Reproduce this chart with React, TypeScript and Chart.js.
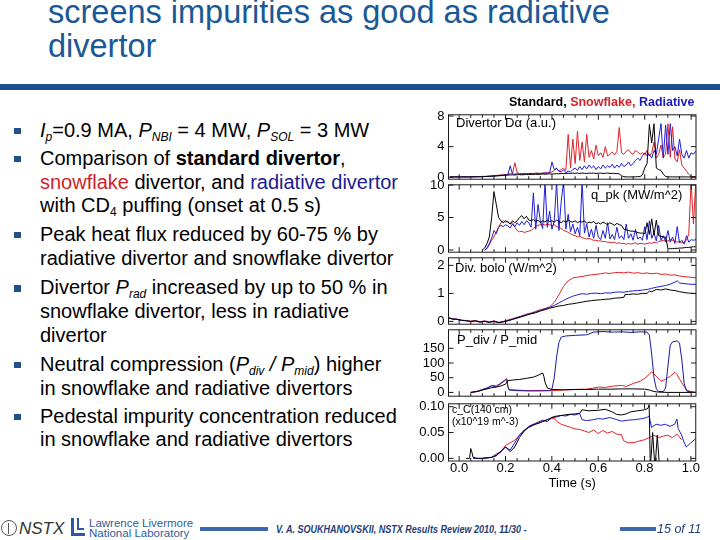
import React, { useEffect, useRef } from 'react';
import { Chart, registerables } from 'chart.js';

Chart.register(...registerables);
Chart.defaults.font.family = '"Liberation Sans", Arial, Helvetica, sans-serif';
Chart.defaults.color = '#000';

// ---------- time grids and tick values ----------
const T_FINE = [
  -0.04, -0.03, -0.02, -0.01,
  0.0, 0.01, 0.02, 0.03, 0.04, 0.05, 0.06, 0.07, 0.08, 0.09,
  0.1, 0.11, 0.12, 0.13, 0.14, 0.15, 0.16, 0.17, 0.18, 0.19,
  0.2, 0.21, 0.22, 0.23, 0.24, 0.25, 0.26, 0.27, 0.28, 0.29,
  0.3, 0.31, 0.32, 0.33, 0.34, 0.35, 0.36, 0.37, 0.38, 0.39,
  0.4, 0.41, 0.42, 0.43, 0.44, 0.45, 0.46, 0.47, 0.48, 0.49,
  0.5, 0.51, 0.52, 0.53, 0.54, 0.55, 0.56, 0.57, 0.58, 0.59,
  0.6, 0.61, 0.62, 0.63, 0.64, 0.65, 0.66, 0.67, 0.68, 0.69,
  0.7, 0.71, 0.72, 0.73, 0.74, 0.75, 0.76, 0.77, 0.78, 0.79,
  0.8, 0.81, 0.82, 0.83, 0.84, 0.85, 0.86, 0.87, 0.88, 0.89,
  0.9, 0.91, 0.92, 0.93, 0.94, 0.95, 0.96, 0.97, 0.98, 0.99,
  1.0, 1.01, 1.02,
];

const X_LABEL_TICKS = [0, 0.2, 0.4, 0.6, 0.8, 1.0];
const X_MINOR_TICKS = [0, 0.05, 0.1, 0.15, 0.2, 0.25, 0.3, 0.35, 0.4, 0.45, 0.5, 0.55, 0.6, 0.65, 0.7, 0.75, 0.8, 0.85, 0.9, 0.95, 1.0];

const DA_TICKS = [0, 4, 8];
const QPK_TICKS = [0, 5, 10];
const BOLO_TICKS = [0, 1, 2];
const PDIV_TICKS = [0, 50, 100, 150];
const CC_TICKS = [0, 0.05, 0.1];

// ---------- Divertor D-alpha (a.u.) on T_FINE ----------
const DA_BLACK = [
  0.05, 0.05, 0.05, 0.05,
  0.05, 0.05, 0.05, 0.05, 0.05, 0.05, 0.06, 0.06, 0.07, 0.08,
  0.08, 0.1, 0.1, 0.12, 0.14, 0.15, 0.18, 0.2, 0.22, 0.25,
  0.28, 0.3, 0.3, 0.32, 0.3, 0.33, 0.35, 0.32, 0.35, 0.36,
  0.35, 0.38, 0.36, 0.4, 0.38, 0.4, 0.42, 0.4, 0.42, 0.45,
  0.42, 0.45, 0.48, 0.45, 0.5, 0.48, 0.5, 0.52, 0.5, 0.55,
  0.52, 0.55, 0.5, 0.55, 0.52, 0.5, 0.55, 0.52, 0.55, 0.5,
  0.52, 0.55, 0.5, 0.52, 0.55, 0.5, 0.52, 0.5, 0.48, 0.45,
  0.2, 0.08, 0.05, 0.05, 0.05, 0.05, 0.06, 0.08, 0.1, 0.3,
  1.2, 1.8, 6.9, 4.5, 7.0, 1.2, 1.0, 0.9, 0.4, 0.1,
  0.05, 0.05, 0.05, 0.05, 0.05, 0.05, 0.05, 0.05, 0.05, 0.05,
  0.05, 0.05, 0.05,
];
const DA_RED = [
  0.05, 0.05, 0.05, 0.05,
  0.05, 0.05, 0.05, 0.06, 0.06, 0.07, 0.08, 0.08, 0.1, 0.1,
  0.12, 0.12, 0.15, 0.18, 0.2, 0.22, 0.25, 0.28, 0.3, 0.32,
  0.35, 0.4, 0.45, 0.5, 1.9, 0.6, 0.5, 0.45, 0.5, 0.48,
  0.5, 0.52, 0.5, 0.55, 0.52, 0.5, 0.55, 0.58, 0.6, 0.62,
  0.7, 0.9, 1.1, 0.8, 1.0, 1.2, 0.9, 5.6, 1.2, 5.0,
  1.8, 6.0, 2.2, 4.6, 2.0, 5.6, 2.6, 3.5, 2.4, 4.2,
  2.8, 3.2, 2.6, 4.0, 2.8, 3.0, 3.3, 2.9, 3.4, 6.5,
  3.2, 3.0, 3.4, 3.6, 3.2, 3.0, 3.5, 3.3, 3.0, 3.2,
  2.9, 3.5, 2.8, 3.2, 4.6, 2.5, 3.0, 4.2, 2.6, 3.0,
  7.0, 2.6, 6.6, 2.4, 2.0, 3.6, 1.6, 1.2, 0.8, 0.4,
  0.1, 0.1, 0.1,
];
const DA_BLUE = [
  0.05, 0.05, 0.05, 0.05,
  0.05, 0.05, 0.05, 0.05, 0.05, 0.06, 0.06, 0.07, 0.07, 0.08,
  0.08, 0.1, 0.1, 0.12, 0.15, 0.18, 0.2, 0.22, 0.25, 0.28,
  0.3, 0.32, 1.5, 0.4, 0.42, 0.45, 0.42, 0.45, 0.48, 0.45,
  0.48, 0.5, 0.48, 0.5, 0.52, 0.5, 0.52, 0.55, 0.55, 0.6,
  2.0, 1.0, 1.2, 0.8, 0.7, 1.0, 0.6, 0.8, 0.7, 1.0,
  1.2, 0.9, 1.4, 1.0, 1.5, 1.1, 1.6, 1.2, 1.5, 1.0,
  1.4, 1.1, 1.6, 1.2, 1.5, 1.3, 1.7, 1.2, 1.6, 1.3,
  1.8, 1.4, 1.6, 2.0, 1.5, 1.8, 2.2, 2.5, 2.2, 2.8,
  3.2, 2.8, 3.0, 2.5, 3.5, 3.0, 5.0, 7.0, 2.5, 6.8,
  3.0, 7.0, 3.5, 4.0, 2.8, 5.0, 3.0, 2.5, 3.5, 2.5,
  3.2, 3.0, 3.4,
];

// ---------- q_pk (MW/m^2) on T_FINE ----------
const QPK_BLACK = [
  null, null, null, null,
  null, null, null, null, null, null, null, null, null, null,
  0.0, 0.3, 1.0, 2.0, 5.0, 9.0, 7.0, 5.0, 4.5, 4.2,
  4.5, 4.3, 4.0, 4.5, 4.2, 4.5, 5.0, 5.3, 4.8, 5.2,
  4.6, 4.5, 4.7, 4.4, 4.6, 4.2, 4.5, 4.3, 4.6, 4.4,
  4.5, 4.3, 4.6, 4.4, 4.2, 4.5, 4.3, 4.6, 4.4, 4.3,
  4.5, 4.2, 4.4, 4.3, 4.5, 4.1, 4.3, 4.2, 4.4, 4.0,
  4.2, 4.0, 4.3, 4.1, 3.9, 4.2, 4.0, 3.8, 4.1, 3.9,
  3.8, 3.2, 3.1, 3.0, 2.9, 2.9, 2.8, 2.7, 2.6, 2.6,
  2.5, 4.2, 2.4, 4.8, 2.3, 4.6, 2.2, 2.1, 2.0, 2.0,
  0.2, 0.2, 0.2, 0.25, 0.25, 0.3, 0.3, 0.35, 0.4, 0.4,
  0.45, 0.5, 0.5,
];
const QPK_RED = [
  null, null, null, null,
  null, null, null, null, null, null, null, null, null, null,
  null, 0.0, 0.2, 0.8, 1.5, 2.0, 2.8, 3.5, 4.2, 4.5,
  4.3, 4.4, 4.0, 4.2, 3.5, 3.0, 2.8, 2.9, 2.7, 2.8,
  2.9, 3.0, 3.3, 3.6, 3.8, 3.9, 4.0, 3.8, 4.0, 3.9,
  3.7, 3.9, 3.6, 3.5, 3.3, 3.0, 2.9, 2.7, 2.5, 2.3,
  2.2, 2.0, 2.1, 1.9, 1.8, 1.7, 1.8, 1.6, 1.5, 1.5,
  1.4, 1.4, 1.3, 1.3, 1.2, 1.2, 1.1, 1.2, 1.0, 1.1,
  1.0, 1.0, 0.9, 1.0, 0.9, 1.0, 1.1, 0.9, 1.0, 1.0,
  0.9, 1.0, 1.1, 1.0, 1.2, 1.1, 1.3, 1.4, 1.5, 1.3,
  1.4, 1.6, 1.5, 1.4, 1.2, 1.3, 1.1, 1.2, 1.5, 2.5,
  10.5, 4.0, 10.5,
];
const QPK_BLUE = [
  null, null, null, null,
  null, null, null, null, null, null, null, null, null, null,
  null, 0.0, 0.3, 1.0, 1.8, 3.0, 2.5, 3.5, 3.8, 3.6,
  3.9, 3.7, 3.4, 4.0, 3.6, 4.2, 3.8, 4.4, 3.9, 4.5,
  4.2, 3.5, 8.8, 3.2, 7.0, 4.5, 3.3, 10.5, 3.5, 6.0,
  3.2, 4.5, 10.5, 3.0, 7.5, 10.5, 3.2, 5.5, 2.8, 4.0,
  2.5, 3.5, 2.2, 10.5, 2.6, 4.0, 2.0, 3.2, 1.8, 3.8,
  2.0, 1.6, 3.0, 1.8, 4.2, 1.7, 2.4, 1.6, 3.5, 1.8,
  2.2, 1.6, 4.0, 1.8, 2.5, 1.5, 3.2, 1.7, 2.0, 1.5,
  3.6, 1.6, 4.5, 1.8, 2.6, 1.4, 3.8, 1.5, 2.2, 1.3,
  3.0, 1.2, 2.0, 1.0, 3.6, 1.1, 1.5, 0.9, 2.2, 1.2,
  1.6, 1.5, 1.6,
];

// ---------- Div. bolo (W/m^2): [time, value] ----------
const BOLO_BLACK: [number, number][] = [
  [-0.046, 0.12], [-0.03, 0.09], [-0.01, 0.07], [0.01, 0.04], [0.03, 0.02], [0.05, 0.0], [0.07, 0.02],
  [0.09, -0.02], [0.11, 0.0], [0.13, -0.03], [0.15, 0.0], [0.17, -0.04], [0.19, -0.02], [0.21, 0.02],
  [0.23, 0.07], [0.25, 0.12], [0.27, 0.17], [0.29, 0.22], [0.31, 0.27], [0.33, 0.31], [0.35, 0.37],
  [0.37, 0.42], [0.39, 0.47], [0.41, 0.51], [0.43, 0.55], [0.45, 0.57], [0.47, 0.61], [0.49, 0.63],
  [0.51, 0.66], [0.53, 0.69], [0.55, 0.72], [0.57, 0.74], [0.59, 0.76], [0.61, 0.77], [0.63, 0.79],
  [0.65, 0.8], [0.67, 0.83], [0.69, 0.84], [0.71, 0.86], [0.715, 0.96], [0.73, 0.96], [0.75, 0.98],
  [0.77, 0.97], [0.79, 1.0], [0.81, 1.0], [0.82, 1.08], [0.83, 1.06], [0.85, 1.14], [0.87, 1.12],
  [0.89, 1.16], [0.91, 1.12], [0.93, 1.1], [0.95, 1.06], [0.97, 1.03], [0.99, 1.01], [1.02, 0.99],
];
const BOLO_RED: [number, number][] = [
  [-0.046, 0.14], [-0.03, 0.1], [-0.01, 0.08], [0.01, 0.05], [0.03, 0.03], [0.05, 0.01], [0.07, 0.03],
  [0.09, -0.01], [0.11, 0.02], [0.13, -0.02], [0.15, 0.02], [0.17, -0.03], [0.19, 0.0], [0.21, 0.05],
  [0.23, 0.1], [0.25, 0.15], [0.27, 0.2], [0.29, 0.26], [0.31, 0.3], [0.33, 0.36], [0.35, 0.42],
  [0.37, 0.46], [0.39, 0.52], [0.41, 0.68], [0.43, 0.95], [0.45, 1.25], [0.47, 1.45], [0.49, 1.55],
  [0.51, 1.58], [0.53, 1.6], [0.55, 1.64], [0.57, 1.66], [0.59, 1.68], [0.61, 1.7], [0.63, 1.73],
  [0.65, 1.71], [0.67, 1.74], [0.69, 1.75], [0.71, 1.73], [0.73, 1.76], [0.75, 1.72], [0.77, 1.74],
  [0.79, 1.71], [0.81, 1.73], [0.83, 1.7], [0.85, 1.72], [0.87, 1.68], [0.89, 1.69], [0.91, 1.65],
  [0.93, 1.66], [0.95, 1.62], [0.97, 1.6], [0.99, 1.58], [1.02, 1.56],
];
const BOLO_BLUE: [number, number][] = [
  [-0.046, 0.13], [-0.03, 0.08], [-0.01, 0.08], [0.01, 0.03], [0.03, 0.03], [0.05, -0.01], [0.07, 0.01],
  [0.09, -0.03], [0.11, 0.01], [0.13, -0.04], [0.15, 0.01], [0.17, -0.05], [0.19, -0.01], [0.21, 0.03],
  [0.23, 0.08], [0.25, 0.13], [0.27, 0.18], [0.29, 0.24], [0.31, 0.28], [0.33, 0.33], [0.35, 0.39],
  [0.37, 0.44], [0.39, 0.5], [0.41, 0.57], [0.43, 0.66], [0.45, 0.75], [0.47, 0.83], [0.49, 0.9],
  [0.51, 0.95], [0.53, 0.99], [0.55, 0.97], [0.57, 1.0], [0.59, 1.01], [0.61, 0.99], [0.63, 1.02],
  [0.65, 1.01], [0.67, 1.04], [0.69, 1.05], [0.71, 1.04], [0.73, 1.07], [0.75, 1.09], [0.77, 1.1],
  [0.79, 1.12], [0.81, 1.14], [0.83, 1.18], [0.85, 1.22], [0.87, 1.25], [0.89, 1.28], [0.91, 1.33],
  [0.93, 1.4], [0.94, 1.45], [0.95, 1.37], [0.97, 1.35], [0.99, 1.33], [1.02, 1.32],
];

// ---------- P_div / P_mid: [time, value] ----------
const PDIV_BLACK: [number, number][] = [
  [0.05, 0], [0.08, 3], [0.1, 8], [0.12, 12], [0.14, 16], [0.16, 18], [0.18, 22], [0.2, 28], [0.21, 40],
  [0.23, 42], [0.26, 44], [0.29, 48], [0.32, 52], [0.34, 58], [0.36, 66], [0.365, 55], [0.37, 35],
  [0.38, 15], [0.4, 10], [0.45, 9], [0.5, 10], [0.55, 10], [0.6, 11], [0.65, 11], [0.7, 12], [0.75, 12],
  [0.8, 11], [0.82, 8], [0.84, 3], [0.86, 1], [0.9, 0], [1.02, 0],
];
const PDIV_BLUE: [number, number][] = [
  [0.05, 0], [0.08, 4], [0.1, 10], [0.12, 15], [0.14, 22], [0.16, 20], [0.18, 30], [0.2, 42], [0.205, 45],
  [0.21, 20], [0.215, 8], [0.25, 6], [0.3, 5], [0.35, 5], [0.39, 6], [0.4, 12], [0.41, 50], [0.42, 120],
  [0.43, 170], [0.44, 188], [0.46, 192], [0.5, 194], [0.55, 196], [0.58, 205], [0.62, 207], [0.66, 205],
  [0.7, 206], [0.74, 204], [0.78, 206], [0.81, 205], [0.82, 195], [0.83, 130], [0.84, 50], [0.85, 12],
  [0.86, 3], [0.88, 3], [0.89, 15], [0.9, 90], [0.91, 160], [0.92, 172], [0.94, 175], [0.95, 168],
  [0.96, 110], [0.97, 30], [0.98, 5], [1.0, 1], [1.02, 0],
];
const PDIV_RED: [number, number][] = [
  [0.05, 0], [0.08, 4], [0.1, 9], [0.12, 14], [0.14, 24], [0.16, 22], [0.18, 32], [0.2, 44], [0.205, 47],
  [0.21, 20], [0.215, 10], [0.25, 8], [0.3, 6], [0.35, 7], [0.4, 6], [0.45, 8], [0.5, 10], [0.55, 11],
  [0.58, 15], [0.6, 18], [0.63, 17], [0.66, 21], [0.7, 24], [0.72, 20], [0.75, 30], [0.78, 38], [0.8, 48],
  [0.82, 62], [0.83, 70], [0.85, 55], [0.87, 38], [0.89, 45], [0.91, 55], [0.93, 68], [0.94, 60],
  [0.95, 45], [0.97, 20], [0.98, 8], [1.0, 2], [1.02, 0],
];

// ---------- c_C (140 cm) (x10^19 m^-3): [time, value] ----------
const CC_BLACK: [number, number][] = [
  [0.03, 0.0], [0.045, 0.0], [0.05, 0.019], [0.055, 0.012], [0.06, 0.002], [0.08, 0.0], [0.1, 0.0],
  [0.12, 0.001], [0.14, 0.002], [0.16, 0.005], [0.18, 0.014], [0.2, 0.022], [0.22, 0.013], [0.24, 0.022],
  [0.26, 0.04], [0.28, 0.053], [0.3, 0.06], [0.32, 0.065], [0.35, 0.069], [0.38, 0.075], [0.41, 0.081],
  [0.44, 0.083], [0.47, 0.085], [0.5, 0.086], [0.52, 0.087], [0.53, 0.094], [0.56, 0.092], [0.6, 0.093],
  [0.63, 0.095], [0.66, 0.09], [0.68, 0.085], [0.7, 0.084], [0.72, 0.086], [0.74, 0.09], [0.77, 0.092],
  [0.8, 0.094], [0.815, 0.097], [0.82, 0.104], [0.825, -0.02], [0.835, 0.05], [0.845, -0.02],
  [0.855, 0.045], [0.865, -0.02],
];
const CC_BLUE: [number, number][] = [
  [0.06, 0.0], [0.1, 0.0], [0.14, 0.002], [0.16, 0.008], [0.18, 0.013], [0.2, 0.022], [0.22, 0.016],
  [0.24, 0.03], [0.26, 0.045], [0.28, 0.052], [0.3, 0.062], [0.33, 0.068], [0.36, 0.074], [0.38, 0.071],
  [0.4, 0.079], [0.42, 0.08], [0.44, 0.083], [0.46, 0.082], [0.48, 0.085], [0.5, 0.084], [0.52, 0.087],
  [0.53, 0.075], [0.55, 0.073], [0.58, 0.075], [0.6, 0.077], [0.62, 0.076], [0.65, 0.079], [0.68, 0.075],
  [0.7, 0.072], [0.73, 0.074], [0.76, 0.075], [0.79, 0.077], [0.81, 0.079], [0.82, 0.082], [0.83, 0.06],
  [0.85, 0.066], [0.87, 0.064], [0.89, 0.066], [0.91, 0.062], [0.93, 0.066], [0.94, 0.076], [0.945, 0.058],
  [0.96, 0.045], [0.97, 0.032], [0.98, 0.022], [0.99, 0.026], [1.0, 0.03], [1.02, 0.038],
];
const CC_RED: [number, number][] = [
  [0.1, 0.0], [0.14, 0.002], [0.16, 0.006], [0.18, 0.012], [0.2, 0.025], [0.22, 0.03], [0.24, 0.035],
  [0.26, 0.045], [0.28, 0.055], [0.3, 0.06], [0.33, 0.066], [0.36, 0.072], [0.39, 0.076], [0.41, 0.078],
  [0.42, 0.072], [0.44, 0.066], [0.46, 0.063], [0.48, 0.06], [0.5, 0.057], [0.52, 0.056], [0.54, 0.053],
  [0.56, 0.05], [0.58, 0.055], [0.6, 0.048], [0.62, 0.054], [0.64, 0.049], [0.66, 0.052], [0.68, 0.047],
  [0.7, 0.046], [0.71, 0.034], [0.73, 0.03], [0.76, 0.031], [0.78, 0.034], [0.8, 0.036], [0.82, 0.04],
  [0.84, 0.045], [0.86, 0.04], [0.88, 0.043], [0.9, 0.045], [0.92, 0.04], [0.94, 0.047], [0.96, 0.036],
];

// ---------- styling ----------
const COL_BLACK = '#000000';
const COL_RED = '#e0232b';
const COL_BLUE = '#1e1ed2';
const FONT = '"Liberation Sans", Arial, Helvetica, sans-serif';
const X_MIN = -0.046;
const X_MAX = 1.021;

type Pt = { x: number; y: number | null };
const fromGrid = (vals: (number | null)[]): Pt[] => T_FINE.map((t, i) => ({ x: t, y: vals[i] }));
const fromPairs = (pairs: [number, number][]): Pt[] => pairs.map(([x, y]) => ({ x, y }));

interface PanelSpec {
  top: number;
  bottom: number;
  min: number;
  max: number;
  ticks: number[];
  decimals: number;
  showX: boolean;
  series: { color: string; pts: Pt[] }[];
}

const PANELS: PanelSpec[] = [
  {
    top: 113, bottom: 181, min: -0.25, max: 8.16, ticks: DA_TICKS, decimals: 0, showX: false,
    series: [
      { color: COL_BLACK, pts: fromGrid(DA_BLACK) },
      { color: COL_BLUE, pts: fromGrid(DA_BLUE) },
      { color: COL_RED, pts: fromGrid(DA_RED) },
    ],
  },
  {
    top: 183, bottom: 254, min: -0.34, max: 10.04, ticks: QPK_TICKS, decimals: 0, showX: false,
    series: [
      { color: COL_BLACK, pts: fromGrid(QPK_BLACK) },
      { color: COL_BLUE, pts: fromGrid(QPK_BLUE) },
      { color: COL_RED, pts: fromGrid(QPK_RED) },
    ],
  },
  {
    top: 256, bottom: 326, min: -0.1, max: 2.27, ticks: BOLO_TICKS, decimals: 0, showX: false,
    series: [
      { color: COL_BLACK, pts: fromPairs(BOLO_BLACK) },
      { color: COL_BLUE, pts: fromPairs(BOLO_BLUE) },
      { color: COL_RED, pts: fromPairs(BOLO_RED) },
    ],
  },
  {
    top: 328, bottom: 398, min: -12.9, max: 212.9, ticks: PDIV_TICKS, decimals: 0, showX: false,
    series: [
      { color: COL_BLACK, pts: fromPairs(PDIV_BLACK) },
      { color: '#1a1aa8', pts: fromPairs(PDIV_BLUE) },
      { color: COL_RED, pts: fromPairs(PDIV_RED) },
    ],
  },
  {
    top: 402, bottom: 461, min: -0.0051, max: 0.1056, ticks: CC_TICKS, decimals: 2, showX: true,
    series: [
      { color: COL_BLACK, pts: fromPairs(CC_BLACK) },
      { color: COL_BLUE, pts: fromPairs(CC_BLUE) },
      { color: COL_RED, pts: fromPairs(CC_RED) },
    ],
  },
];

function makeFrame(yTicks: number[]) {
  return {
    id: 'frame',
    afterDatasetsDraw(chart: any) {
      const { ctx, chartArea: a } = chart;
      const xs = chart.scales.x;
      const ys = chart.scales.y;
      ctx.save();
      ctx.strokeStyle = '#1a1a1a';
      ctx.lineWidth = 1;
      ctx.strokeRect(a.left, a.top, a.right - a.left, a.bottom - a.top);
      ctx.beginPath();
      for (const v of X_MINOR_TICKS) {
        const px = xs.getPixelForValue(v);
        const len = X_LABEL_TICKS.includes(v) ? 5 : 3;
        ctx.moveTo(px, a.bottom);
        ctx.lineTo(px, a.bottom - len);
        ctx.moveTo(px, a.top);
        ctx.lineTo(px, a.top + len);
      }
      for (const v of yTicks) {
        const py = ys.getPixelForValue(v);
        ctx.moveTo(a.left, py);
        ctx.lineTo(a.left + 5, py);
        ctx.moveTo(a.right, py);
        ctx.lineTo(a.right - 5, py);
      }
      ctx.stroke();
      ctx.restore();
    },
  };
}

function Panel({ spec }: { spec: PanelSpec }) {
  const ref = useRef<HTMLCanvasElement>(null);
  const padTop = 10;
  const padBottom = spec.showX ? 0 : 10;
  const xAxisH = spec.showX ? 37 : 0;
  const canvasTop = spec.top - padTop;
  const height = spec.bottom - spec.top + padTop + padBottom + xAxisH;

  useEffect(() => {
    if (!ref.current) return;
    const chart = new Chart(ref.current, {
      type: 'line',
      data: {
        datasets: spec.series.map((s) => ({
          data: s.pts as any,
          borderColor: s.color,
          backgroundColor: s.color,
          borderWidth: 1,
          pointRadius: 0,
          tension: 0,
          fill: false,
        })),
      },
      options: {
        animation: false,
        responsive: false,
        maintainAspectRatio: false,
        events: [],
        layout: { padding: { top: padTop, bottom: padBottom, left: 0, right: 4 }, autoPadding: false },
        plugins: { legend: { display: false }, tooltip: { enabled: false } },
        scales: {
          x: {
            type: 'linear',
            min: X_MIN,
            max: X_MAX,
            display: spec.showX,
            grid: { display: false, drawTicks: false },
            border: { display: false },
            ticks: {
              padding: 0,
              maxRotation: 0,
              autoSkip: false,
              font: { size: 13, family: FONT },
              color: '#000',
              callback: (v: any) => Number(v).toFixed(1),
            },
            afterBuildTicks: (axis: any) => {
              axis.ticks = X_LABEL_TICKS.map((v) => ({ value: v }));
            },
            afterFit: (s: any) => {
              s.height = xAxisH;
            },
            title: {
              display: spec.showX,
              text: 'Time (s)',
              font: { size: 13, family: FONT },
              color: '#000',
              padding: { top: 0, bottom: 7 },
            },
          },
          y: {
            type: 'linear',
            min: spec.min,
            max: spec.max,
            grid: { display: false, drawTicks: false },
            border: { display: false },
            ticks: {
              padding: 4,
              autoSkip: false,
              font: { size: 13, family: FONT },
              color: '#000',
              callback: (v: any) => Number(v).toFixed(spec.decimals),
            },
            afterBuildTicks: (axis: any) => {
              axis.ticks = spec.ticks.map((v) => ({ value: v }));
            },
            afterFit: (s: any) => {
              s.width = 48.5;
            },
          },
        },
      } as any,
      plugins: [makeFrame(spec.ticks)],
    });
    return () => chart.destroy();
  }, []);

  return (
    <canvas
      ref={ref}
      width={300}
      height={height}
      style={{ position: 'absolute', left: 400, top: canvasTop, width: 300, height }}
    />
  );
}

const abs = (s: React.CSSProperties): React.CSSProperties => ({ position: 'absolute', whiteSpace: 'nowrap', ...s });
const subS: React.CSSProperties = { fontSize: '12px', verticalAlign: '-4px', lineHeight: 0 };
const RED_TXT = '#cf1f26';
const BLUE_TXT = '#1b1b90';

function Bullet({ top, children }: { top: number; children: React.ReactNode }) {
  return (
    <>
      <div style={abs({ left: 14, top: top + 9, width: 6.5, height: 6.5, background: '#23508a' })} />
      <div style={abs({ left: 40, top, font: `20px ${FONT}`, lineHeight: '23.7px', color: '#000' })}>{children}</div>
    </>
  );
}

export default function App() {
  return (
    <div
      style={{
        position: 'absolute',
        left: 0,
        top: 0,
        width: 720,
        height: 540,
        overflow: 'hidden',
        background: '#fff',
        fontFamily: FONT,
      }}
    >
      {/* Title */}
      <div style={abs({ left: 48, top: -5, font: `32.5px ${FONT}`, lineHeight: '34px', color: '#1b5896' })}>
        screens impurities as good as radiative
        <br />
        divertor
      </div>
      <div style={abs({ left: 0, top: 84, width: 720, height: 6, background: '#1d4f8e' })} />

      {/* Bullets */}
      <Bullet top={118.5}>
        <i>I</i>
        <i style={subS}>p</i>=0.9 MA, <i>P</i>
        <i style={subS}>NBI</i> = 4 MW, <i>P</i>
        <i style={subS}>SOL</i> = 3 MW
      </Bullet>
      <Bullet top={146.9}>
        Comparison of <b>standard divertor</b>,
        <br />
        <span style={{ color: RED_TXT }}>snowflake</span> divertor, and{' '}
        <span style={{ color: BLUE_TXT }}>radiative divertor</span>
        <br />
        with CD<span style={subS}>4</span> puffing (onset at 0.5 s)
      </Bullet>
      <Bullet top={222.9}>
        Peak heat flux reduced by 60-75 % by
        <br />
        radiative divertor and snowflake divertor
      </Bullet>
      <Bullet top={276.2}>
        Divertor <i>P</i>
        <i style={subS}>rad</i> increased by up to 50 % in
        <br />
        snowflake divertor, less in radiative
        <br />
        divertor
      </Bullet>
      <Bullet top={352.9}>
        Neutral compression (<i>P</i>
        <i style={subS}>div</i>
        <i> / P</i>
        <i style={subS}>mid</i>) higher
        <br />
        in snowflake and radiative divertors
      </Bullet>
      <Bullet top={404.5}>
        Pedestal impurity concentration reduced
        <br />
        in snowflake and radiative divertors
      </Bullet>

      {/* Chart panels */}
      {PANELS.map((p, i) => (
        <Panel key={i} spec={p} />
      ))}

      {/* Legend and panel labels */}
      <div style={abs({ left: 509, top: 95, font: `bold 12.5px ${FONT}`, lineHeight: '15px' })}>
        <span style={{ color: '#000' }}>Standard, </span>
        <span style={{ color: '#d42228' }}>Snowflake, </span>
        <span style={{ color: '#1a1ab8' }}>Radiative</span>
      </div>
      <div style={abs({ left: 456, top: 115, font: `13px ${FONT}`, lineHeight: '15px' })}>Divertor Dα (a.u.)</div>
      <div style={abs({ left: 591, top: 186.5, font: `13px ${FONT}`, lineHeight: '15px' })}>q_pk (MW/m^2)</div>
      <div style={abs({ left: 455, top: 259.5, font: `13px ${FONT}`, lineHeight: '15px' })}>Div. bolo (W/m^2)</div>
      <div style={abs({ left: 457, top: 331.5, font: `13px ${FONT}`, lineHeight: '15px' })}>P_div / P_mid</div>
      <div style={abs({ left: 452, top: 404, font: `10.5px ${FONT}`, lineHeight: '11.5px' })}>
        c_C(140 cm)
        <br />
        (x10^19 m^-3)
      </div>

      {/* Footer */}
      <div style={abs({ left: 1, top: 520, width: 14, height: 14, border: '1.5px solid #555', borderRadius: '50%' })} />
      <div style={abs({ left: 7.5, top: 523, width: 1.5, height: 11, background: '#555' })} />
      <div style={abs({ left: 19, top: 519, font: `italic 17px ${FONT}`, lineHeight: '19px', color: '#333' })}>NSTX</div>
      <div style={abs({ left: 71, top: 518, width: 11, height: 15, borderLeft: '3px solid #2a5aa0', borderBottom: '3px solid #2a5aa0' })} />
      <div style={abs({ left: 77, top: 518, width: 5, height: 10, borderLeft: '2px solid #2a5aa0', borderBottom: '2px solid #2a5aa0' })} />
      <div style={abs({ left: 89, top: 518.3, font: `11.5px ${FONT}`, lineHeight: '10px', color: '#2f5da0' })}>
        Lawrence Livermore
        <br />
        National Laboratory
      </div>
      <div style={abs({ left: 200, top: 527, width: 68, height: 4, background: '#3a68a8' })} />
      <div
        style={abs({
          left: 276,
          top: 523,
          font: `italic bold 10.5px ${FONT}`,
          lineHeight: '12px',
          color: '#1f3e78',
          transform: 'scaleX(0.86)',
          transformOrigin: 'left center',
        })}
      >
        V. A. SOUKHANOVSKII, NSTX Results Review 2010, 11/30 -
      </div>
      <div style={abs({ left: 620, top: 527, width: 36, height: 4, background: '#3a68a8' })} />
      <div style={abs({ left: 657, top: 521.5, font: `italic 12.5px ${FONT}`, lineHeight: '14px', color: '#1f3e78' })}>15 of 11</div>
    </div>
  );
}
